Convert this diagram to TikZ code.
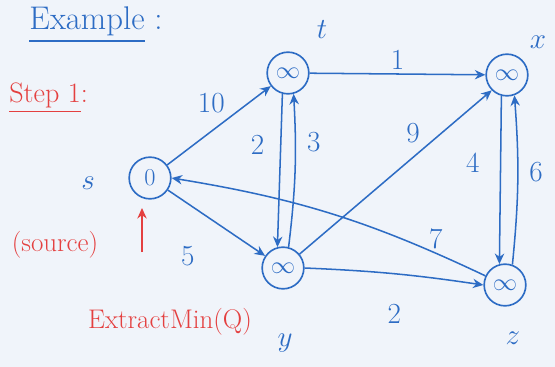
\documentclass[tikz,border=0pt]{standalone}
\usepackage{amsmath}
\usepackage{amssymb}
\usetikzlibrary{arrows.meta}
\definecolor{penblue}{RGB}{45,108,196}
\definecolor{penred}{RGB}{228,64,64}
\definecolor{paper}{RGB}{240,244,250}

\begin{document}
\begin{tikzpicture}[x=0.03cm,y=-0.03cm]
	\tikzset{vertex/.style={draw=penblue,line width=1.4pt,circle,minimum size=1.25cm,inner sep=0pt,text=penblue,font=\huge},
		link/.style={-{Stealth[length=9pt,width=8pt]},line width=1.3pt,penblue},
		cost/.style={text=penblue,font=\Huge},
		note/.style={text=penred,font=\fontsize{23}{23}\selectfont}};
	\fill[paper] (0,0) rectangle (555,367);
	\useasboundingbox (0,0) rectangle (555,367);
	% heading
	\node[text=penblue,font=\fontsize{28}{28}\selectfont,anchor=base west,inner sep=1pt] (title) at (28,30) {\underline{Example} :};
	\node[note,font=\fontsize{24}{24}\selectfont,anchor=east] (step) at (92,98) {\underline{Step 1}:};
	% vertices
	\node[vertex] (s) at (150,178) {$0$};
	\node[vertex] (t) at (288,73) {$\infty$};
	\node[vertex] (x) at (507,75) {$\infty$};
	\node[vertex] (y) at (283,268) {$\infty$};
	\node[vertex] (z) at (505,285) {$\infty$};
	\node[cost] (sname) at (88,183) {$s$};
	\node[cost] (tname) at (322,30) {$t$};
	\node[cost] (xname) at (538,42) {$x$};
	\node[cost] (yname) at (285,343) {$y$};
	\node[cost] (zname) at (513,338) {$z$};
	% edges
	\draw[link] (s) -- node[cost,below=24pt,xshift=-12pt,pos=0.35] {5} (y);
	\draw[link] (s) -- node[cost,above left,pos=0.6] {10} (t);
	\draw[link] (t) -- node[cost,above] {1} (x);
	\draw[link] (t.255) -- node[cost,left=10pt,pos=0.33] {2} (y.105);
	\draw[link] (y.75) to[bend right=5] node[cost,right=6pt,pos=0.7] {3} (t.285);
	\draw[link] (y.40) -- node[cost,above left,pos=0.65] {9} (x.225);
	\draw[link] (y.east) to[bend left=3] node[cost,below=22pt] {2} (z.west);
	\draw[link] (x.255) -- node[cost,left=14pt,pos=0.4] {4} (z.105);
	\draw[link] (z.70) to[bend right=5] node[cost,right=6pt,pos=0.55] {6} (x.290);
	\draw[link] (z.155) to[bend right=8] node[cost,above,pos=0.15] {7} (s.east);
	% source marker
	\node[note] (src) at (55,245) {(source)};
	\coordinate (srcfoot) at (142,252);
	\coordinate (srctip) at (142,208);
	\draw[-{Stealth[length=9pt,width=8pt]},line width=1.4pt,penred] (srcfoot) -- (srctip);
	\node[note] (extract) at (170,322) {ExtractMin(Q)};
\end{tikzpicture}
\end{document}
